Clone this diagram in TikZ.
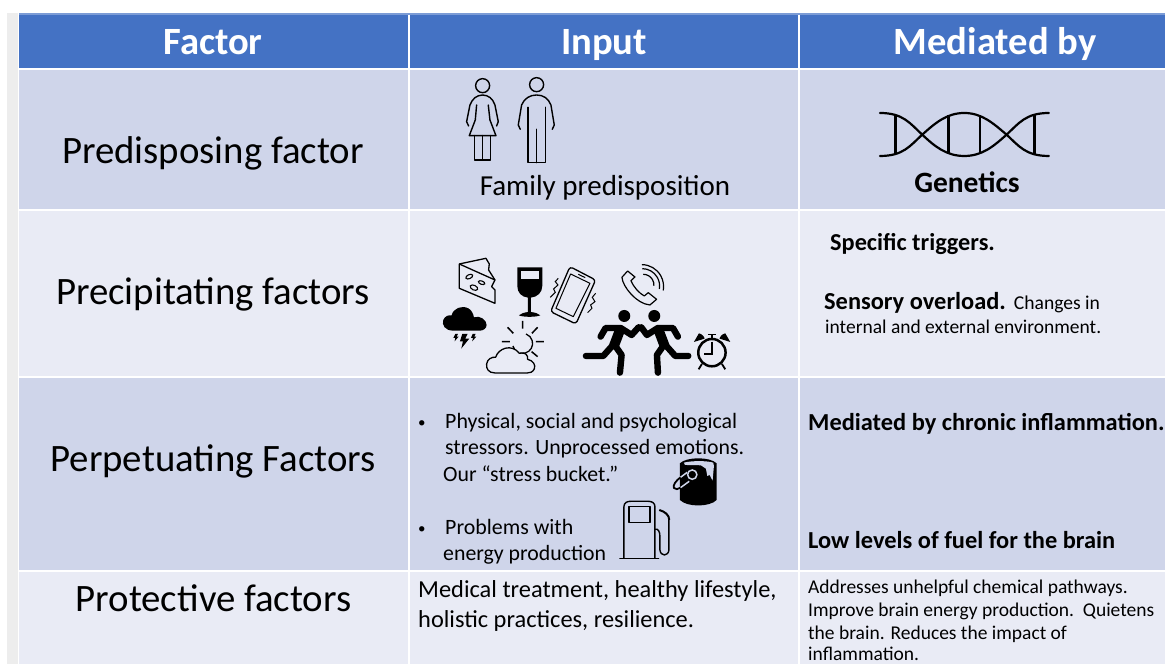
\documentclass[tikz,border=0pt]{standalone}
\usepackage{fontspec}
\setmainfont{Carlito}
\definecolor{hdr}{HTML}{4472C4}
\definecolor{rowA}{HTML}{CFD5EA}
\definecolor{rowB}{HTML}{E9EBF5}
\definecolor{strip}{HTML}{EDEDED}
\newcommand{\fs}[1]{\fontsize{#1}{#1}\selectfont}
\tikzset{
  lbl/.style={anchor=base west,inner sep=0pt,text=black,align=left},
  ctr/.style={anchor=base,inner sep=0pt,text=black},
  hd/.style={anchor=base,inner sep=0pt,text=white,font=\fs{38.6}\bfseries},
  fac/.style={anchor=base,inner sep=0pt,text=black,font=\fs{38.8}},
  ico/.style={line width=1.4pt,draw=black,line join=round,line cap=round},
  limb/.style={line width=6.4pt,draw=black,line join=round,line cap=round},
}
\begin{document}
\begin{tikzpicture}[x=1pt,y=-1pt]
\useasboundingbox (0,0) rectangle (1165,664);
\fill[white] (0,0) rectangle (1165,664);
\fill[strip] (7,13) rectangle (18,664);
% table cells
\fill[hdr!70!white] (19,13) rectangle (1165,15);
\fill[hdr] (19,15) rectangle (408,68);
\fill[hdr] (410,15) rectangle (798,68);
\fill[hdr] (800,15) rectangle (1165,68);
\foreach \xa/\xb in {19/408,410/798,800/1165}{
  \fill[rowA] (\xa,70) rectangle (\xb,209);
  \fill[rowB] (\xa,211) rectangle (\xb,376);
  \fill[rowA] (\xa,378) rectangle (\xb,570);
  \fill[rowB] (\xa,572) rectangle (\xb,664);
}
% headers
\node[hd] (h1) at (213,54) {Factor};
\node[hd] (h2) at (604,54) {Input};
\node[hd] (h3) at (995,54) {Mediated by};
% first column
\node[fac] (f1) at (213,163) {Predisposing factor};
\node[fac] (f2) at (213,304) {Precipitating factors};
\node[fac] (f3) at (213,471) {Perpetuating Factors};
\node[fac] (f4) at (213.5,611) {Protective factors};
% input column
\node[ctr,font=\fs{29}] (i1) at (605,195) {Family predisposition};
\node[lbl,font=\fs{15}] (b1) at (418,427) {•};
\node[lbl,font=\fs{21.9}] (i2) at (445,428) {Physical, social and psychological};
\node[lbl,font=\fs{21.8}] (i3) at (445,454) {stressors. Unprocessed emotions.};
\node[lbl,font=\fs{21.8}] (i4) at (443,481) {Our “stress bucket.”};
\node[lbl,font=\fs{15}] (b2) at (418,533) {•};
\node[lbl,font=\fs{21.9}] (i5) at (445,534) {Problems with};
\node[lbl,font=\fs{21.8}] (i6) at (443,560) {energy production};
\node[lbl,font=\fs{24.4}] (i7) at (418,597) {Medical treatment, healthy lifestyle,};
\node[lbl,font=\fs{24.4}] (i8) at (418,627) {holistic practices, resilience.};
% mediated column
\node[ctr,font=\fs{29.5}\bfseries] (m1) at (967,192) {Genetics};
\node[lbl,font=\fs{24.3}\bfseries] (m2) at (830,250) {Specific triggers.};
\node[lbl] (m3) at (824,309.5) {{\fs{24.4}\bfseries Sensory overload.}\hspace{8pt}{\fs{19.6}Changes in}};
\node[lbl,font=\fs{19.5}] (m4) at (825,333) {internal and external environment.};
\node[lbl,font=\fs{24.4}\bfseries] (m5) at (808,430) {Mediated by chronic inflammation.};
\node[lbl,font=\fs{24.4}\bfseries] (m6) at (808,548) {Low levels of fuel for the brain};
\node[lbl,font=\fs{19.5}] (m7) at (808,593) {Addresses unhelpful chemical pathways.};
\node[lbl,font=\fs{19.5}] (m8) at (808,616) {Improve brain energy production.\ \ Quietens};
\node[lbl,font=\fs{19.5}] (m9) at (808,639) {the brain. Reduces the impact of};
\node[lbl,font=\fs{19.5}] (m10) at (808,660) {inflammation.};
% people icons
\begin{scope}[x=0.3333pt,y=-0.3333pt,shift={(1230,210)}]
\draw[ico] (218,47) circle (21);
\draw[ico] (176,168) -- (170,155) -- (180,105) .. controls (188,85) and (200,76) .. (218,75) .. controls (236,76) and (248,85) .. (255,105) -- (265,155) -- (260,168);
\draw[ico] (200,105) -- (196,150) -- (178,197) -- (258,197) -- (240,150) -- (235,105);
\draw[ico] (194,197) -- (194,270) -- (242,270) -- (242,197) (218,197) -- (218,270);
\draw[ico] (380,44) circle (21);
\draw[ico] (331,178) -- (325,165) -- (335,105) .. controls (343,85) and (360,75) .. (380,75) .. controls (400,75) and (415,85) .. (423,105) -- (433,165) -- (427,178);
\draw[ico] (354,112) -- (354,278) -- (406,278) -- (406,112) (380,178) -- (380,278);
\end{scope}
% DNA icon
\begin{scope}[x=0.3333pt,y=-0.3333pt,shift={(2580,270)}]
\draw[line width=2.2pt,line cap=round] (60,69) .. controls (130,69) and (150,100) .. (187,134) .. controls (225,170) and (260,198) .. (313,198) .. controls (366,198) and (400,170) .. (440,134) .. controls (477,100) and (497,69) .. (567,69);
\draw[line width=2.2pt,line cap=round] (60,198) .. controls (130,198) and (150,168) .. (187,134) .. controls (225,100) and (260,69) .. (313,69) .. controls (366,69) and (400,100) .. (440,134) .. controls (477,168) and (497,198) .. (567,198);
\draw[line width=2.8pt] (106,75) -- (106,192) (266,76) -- (266,190) (360,76) -- (360,190) (523,75) -- (523,192);
\end{scope}
% trigger icons
\begin{scope}[x=0.3333pt,y=-0.3333pt,shift={(1290,720)}]
% cheese
\draw[line width=1.3pt,line join=round] (88,72) -- (88,145) -- (195,190) -- (195,150) -- (185,140) -- (195,120) -- (176,90) -- (178,72) -- (168,55) -- cycle;
\draw[line width=1.3pt] (88,72) -- (195,120);
\draw[line width=1.1pt,rotate around={25:(118,110)}] (118,110) ellipse (11 and 6);
\draw[line width=1.1pt,rotate around={-20:(155,128)}] (155,128) ellipse (10 and 5);
\draw[line width=1.1pt,rotate around={-25:(132,143)}] (132,143) ellipse (12 and 7);
% wine
\fill[black] (262,82) -- (337,82) -- (337,138) .. controls (337,158) and (322,171) .. (303,173) -- (303,216) .. controls (315,218) and (325,220) .. (331,226) .. controls (320,232) and (278,232) .. (267,226) .. controls (273,220) and (283,218) .. (294,216) -- (294,173) .. controls (275,171) and (262,158) .. (262,138) -- cycle;
\fill[rowB] (272,92) rectangle (328,118);
% smartphone
\draw[line width=1.3pt,line join=round,rounded corners=3pt] (420,80) -- (497,120) -- (438,252) -- (362,215) -- cycle;
\draw[line width=1pt,line join=round] (422,102) -- (480,130) -- (430,230) -- (378,205) -- cycle;
\draw[line width=1pt] (445,103) -- (466,113);
\draw[line width=1pt] (385,115) -- (376,125) -- (384,135) -- (371,147) -- (376,157) -- (361,172);
\draw[line width=1pt] (497,160) -- (487,172) -- (495,185) -- (482,195) -- (486,205) -- (473,218);
% handset
\draw[line width=1.2pt,line join=round] (593,93) -- (576,112) .. controls (578,140) and (620,192) .. (660,195) -- (680,178) -- (655,158) -- (643,168) .. controls (628,160) and (610,140) .. (603,122) -- (615,111) -- cycle;
\draw[line width=1.2pt] (640,103) arc (-90:5:32 and 32);
\draw[line width=1.2pt] (637,86) arc (-90:10:52 and 52);
\draw[line width=1.2pt] (636,74) arc (-90:10:65 and 66);
% storm cloud
\fill[black] (70,272) .. controls (45,272) and (35,255) .. (40,240) .. controls (45,228) and (55,225) .. (65,226) .. controls (70,205) and (95,195) .. (115,205) .. controls (125,210) and (130,222) .. (132,232) .. controls (150,225) and (170,240) .. (170,255) .. controls (170,265) and (160,272) .. (150,272) -- cycle;
\fill[black] (97,282) -- (113,282) -- (106,296) -- (118,296) -- (94,326) -- (99,304) -- (90,304) -- cycle;
\fill[black] (76,282) -- (84,282) -- (80,290) -- (86,290) -- (74,304) -- (76,294) -- (70,294) -- cycle;
\fill[black] (128,282) -- (137,282) -- (133,290) -- (139,290) -- (127,304) -- (129,294) -- (123,294) -- cycle;
% sun with cloud
\draw[line width=1.3pt] (249,318) arc (165:-70:30);
\draw[line width=1.5pt,line cap=butt] (278,243) -- (278,266) (233,262) -- (250,280) (323,262) -- (306,280) (216,305) -- (240,305) (318,305) -- (342,305) (305,335) -- (323,350);
\fill[rowB] (171,400) -- (171,370) -- (200,340) -- (240,320) -- (300,355) -- (315,400) -- cycle;
\draw[line width=1.3pt,line join=round] (195,399) .. controls (175,399) and (168,385) .. (170,372) .. controls (172,358) and (185,350) .. (197,352) .. controls (205,325) and (245,310) .. (268,340) .. controls (285,335) and (295,345) .. (293,358) .. controls (310,362) and (318,375) .. (313,387) .. controls (308,397) and (300,399) .. (292,399) -- cycle;
% runners
\fill[black] (583,228) circle (18) (673,228) circle (18);
\draw[limb] (468,348) -- (520,348) -- (552,312) (570,398) -- (575,345) -- (552,312);
\draw[limb,line width=10pt,line cap=butt] (552,318) -- (572,265);
\draw[limb] (512,290) -- (527,264) -- (572,264) -- (605,285) -- (626,262);
\draw[limb] (775,348) -- (736,348) -- (704,312) (684,398) -- (681,345) -- (704,312);
\draw[limb,line width=10pt,line cap=butt] (704,318) -- (684,265);
\draw[limb] (744,290) -- (729,264) -- (684,264) -- (651,285) -- (634,262);
% alarm clock
\draw[line width=2.5pt] (846,338) circle (41);
\draw[line width=1.6pt] (846,305) -- (846,342) -- (821,342);
\fill[black] (792,306) -- (807,280) .. controls (817,282) and (824,292) .. (824,296) -- cycle;
\fill[black] (901,306) -- (886,280) .. controls (876,282) and (869,292) .. (869,296) -- cycle;
\draw[line width=1.6pt] (834,283) -- (858,283) (846,283) -- (846,298);
\draw[line width=1.8pt] (816,372) -- (806,388) (876,372) -- (886,388);
\end{scope}
% paint can and fuel pump
\begin{scope}[x=0.3333pt,y=-0.3333pt,shift={(1800,1320)}]
\fill[black] (240,70) .. controls (260,50) and (330,50) .. (350,70) -- (350,180) .. controls (330,202) and (260,202) .. (240,180) -- cycle;
\fill[rowA] (252,68) .. controls (275,62) and (320,62) .. (340,68) -- (342,78) -- (338,122) -- (329,105) -- (322,108) -- (318,86) -- (303,76) -- (255,75) -- cycle;
\draw[black,line width=1.8pt] (242,112) .. controls (228,122) and (218,136) .. (222,144) .. controls (226,150) and (235,148) .. (242,143);
\draw[rowA,line width=1.5pt] (242,112) -- (262,97) (242,143) -- (268,124);
\draw[rowA,line width=1.5pt] (277,104) circle (14);
% pump
\draw[ico] (72,355) -- (72,200) .. controls (72,188) and (82,184) .. (92,184) -- (145,184) .. controls (157,184) and (165,190) .. (165,200) -- (165,355);
\draw[ico] (60,356) -- (176,356);
\draw[ico] (87,200) rectangle (150,247);
\draw[ico] (165,268) .. controls (175,265) and (180,275) .. (180,290) -- (180,330) .. controls (182,350) and (205,350) .. (207,330) -- (207,240);
\draw[line width=2pt] (178,210) .. controls (195,215) and (208,225) .. (208,240);
\end{scope}
\end{tikzpicture}
\end{document}
